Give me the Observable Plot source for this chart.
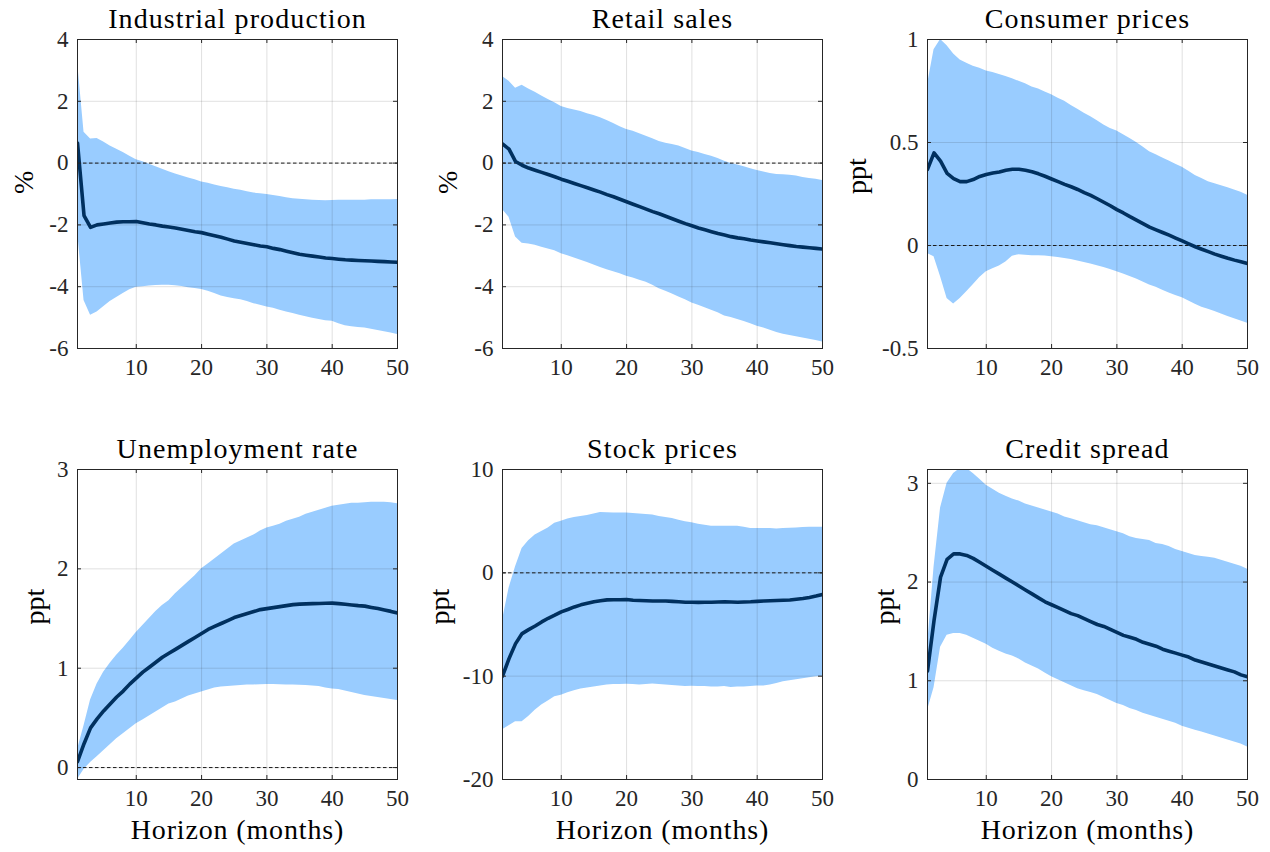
<!DOCTYPE html>
<html>
<head>
<meta charset="utf-8">
<script src="https://cdn.jsdelivr.net/npm/d3@7"></script>
<script src="https://cdn.jsdelivr.net/npm/@observablehq/plot@0.6"></script>
<style>
  html, body { margin: 0; padding: 0; background: #fff; }
  #fig { position: relative; width: 1270px; height: 852px; overflow: hidden; }
  #fig svg { position: absolute; overflow: visible; }
</style>
</head>
<body>
<div id="fig"></div>
<script>
// Impulse responses over a 50-month horizon: median and 68% band per variable.
const horizon = d3.range(1, 51);

const titles = ["Industrial production", "Retail sales", "Consumer prices",
                "Unemployment rate", "Stock prices", "Credit spread"];
const units = ["%", "%", "ppt", "ppt", "ppt", "ppt"];
const xLabel = "Horizon (months)";
const xTicks = [10, 20, 30, 40, 50];
const yTicks = [
  [-6, -4, -2, 0, 2, 4],
  [-6, -4, -2, 0, 2, 4],
  [-0.5, 0, 0.5, 1],
  [0, 1, 2, 3],
  [-20, -10, 0, 10],
  [0, 1, 2, 3]
];
const yDomains = [[-6, 4], [-6, 4], [-0.5, 1], [-0.12, 3], [-20, 10], [0, 3.14]];

// Industrial production
const ipMedian = [0.65, -1.7, -2.08, -2.0, -1.97, -1.94, -1.91, -1.9, -1.9, -1.89,
  -1.93, -1.97, -2.0, -2.04, -2.07, -2.1, -2.14, -2.18, -2.22, -2.25,
  -2.3, -2.35, -2.4, -2.46, -2.52, -2.56, -2.6, -2.64, -2.68, -2.71,
  -2.76, -2.8, -2.85, -2.9, -2.95, -2.98, -3.01, -3.04, -3.07, -3.09,
  -3.11, -3.13, -3.14, -3.15, -3.16, -3.17, -3.18, -3.19, -3.2, -3.21];
const ipUpper = [3.3, 1.0, 0.78, 0.8, 0.68, 0.55, 0.45, 0.34, 0.22, 0.11,
  0.04, -0.04, -0.12, -0.2, -0.28, -0.35, -0.42, -0.48, -0.54, -0.61,
  -0.65, -0.71, -0.76, -0.8, -0.85, -0.88, -0.93, -0.97, -0.99, -1.02,
  -1.05, -1.08, -1.12, -1.15, -1.17, -1.19, -1.2, -1.21, -1.22, -1.21,
  -1.2, -1.2, -1.2, -1.2, -1.2, -1.19, -1.19, -1.19, -1.19, -1.18];
const ipLower = [-2.2, -4.45, -4.92, -4.82, -4.65, -4.48, -4.35, -4.22, -4.1, -4.02,
  -4.0, -3.98, -3.96, -3.95, -3.95, -3.97, -3.99, -4.03, -4.06, -4.09,
  -4.15, -4.22, -4.3, -4.35, -4.39, -4.42, -4.48, -4.55, -4.6, -4.66,
  -4.7, -4.76, -4.82, -4.87, -4.92, -4.97, -5.02, -5.06, -5.1, -5.12,
  -5.2, -5.26, -5.3, -5.32, -5.34, -5.38, -5.42, -5.46, -5.5, -5.55];

// Retail sales
const rsMedian = [0.62, 0.45, 0.05, -0.07, -0.16, -0.23, -0.3, -0.37, -0.44, -0.52,
  -0.59, -0.66, -0.73, -0.8, -0.87, -0.94, -1.02, -1.09, -1.17, -1.25,
  -1.33, -1.41, -1.49, -1.57, -1.64, -1.72, -1.8, -1.88, -1.96, -2.03,
  -2.1, -2.16, -2.22, -2.28, -2.33, -2.38, -2.42, -2.45, -2.49, -2.52,
  -2.55, -2.58, -2.61, -2.64, -2.67, -2.7, -2.72, -2.74, -2.76, -2.78];
const rsUpper = [2.8, 2.65, 2.42, 2.52, 2.4, 2.29, 2.17, 2.06, 1.95, 1.83,
  1.77, 1.72, 1.67, 1.6, 1.54, 1.47, 1.38, 1.28, 1.18, 1.09,
  1.03, 0.95, 0.87, 0.79, 0.7, 0.64, 0.6, 0.55, 0.47, 0.39,
  0.34, 0.28, 0.22, 0.15, 0.06, -0.01, -0.06, -0.12, -0.18, -0.24,
  -0.29, -0.34, -0.37, -0.38, -0.39, -0.42, -0.47, -0.5, -0.52, -0.56];
const rsLower = [-1.5, -1.75, -2.39, -2.59, -2.62, -2.66, -2.72, -2.78, -2.84, -2.93,
  -3.0, -3.07, -3.14, -3.22, -3.3, -3.38, -3.45, -3.52, -3.58, -3.66,
  -3.72, -3.79, -3.86, -3.95, -4.07, -4.15, -4.24, -4.33, -4.42, -4.53,
  -4.6, -4.68, -4.76, -4.84, -4.95, -5.0, -5.06, -5.13, -5.2, -5.28,
  -5.34, -5.41, -5.48, -5.54, -5.58, -5.62, -5.66, -5.7, -5.74, -5.79];

// Consumer prices
const cpMedian = [0.37, 0.45, 0.41, 0.35, 0.325, 0.31, 0.31, 0.32, 0.335, 0.345,
  0.352, 0.357, 0.365, 0.37, 0.37, 0.365, 0.358, 0.348, 0.336, 0.323,
  0.31, 0.297, 0.285, 0.272, 0.257, 0.243, 0.227, 0.21, 0.193, 0.174,
  0.158, 0.14, 0.123, 0.106, 0.089, 0.076, 0.063, 0.05, 0.036, 0.022,
  0.008, -0.006, -0.018, -0.03, -0.042, -0.052, -0.062, -0.071, -0.079, -0.087];
const cpUpper = [0.78, 0.95, 1.0, 0.97, 0.93, 0.9, 0.885, 0.87, 0.86, 0.847,
  0.84, 0.83, 0.82, 0.81, 0.797, 0.785, 0.77, 0.76, 0.745, 0.732,
  0.715, 0.7, 0.68, 0.662, 0.642, 0.625, 0.605, 0.585, 0.568, 0.556,
  0.538, 0.52, 0.5, 0.478, 0.455, 0.44, 0.425, 0.41, 0.395, 0.38,
  0.36, 0.34, 0.325, 0.31, 0.3, 0.29, 0.28, 0.27, 0.258, 0.244];
const cpLower = [-0.039, -0.055, -0.152, -0.257, -0.284, -0.257, -0.225, -0.19, -0.155, -0.128,
  -0.113, -0.1, -0.08, -0.052, -0.045, -0.047, -0.05, -0.05, -0.051, -0.055,
  -0.058, -0.063, -0.068, -0.075, -0.082, -0.09, -0.098, -0.107, -0.116, -0.127,
  -0.138, -0.15, -0.163, -0.177, -0.192, -0.203, -0.217, -0.23, -0.243, -0.254,
  -0.27, -0.285, -0.3, -0.31, -0.32, -0.333, -0.345, -0.356, -0.367, -0.378];

// Unemployment rate
const urMedian = [0.06, 0.24, 0.4, 0.49, 0.57, 0.64, 0.71, 0.77, 0.84, 0.9,
  0.96, 1.01, 1.06, 1.11, 1.15, 1.19, 1.23, 1.27, 1.31, 1.35,
  1.39, 1.42, 1.45, 1.48, 1.51, 1.53, 1.55, 1.57, 1.59, 1.6,
  1.61, 1.62, 1.63, 1.64, 1.645, 1.648, 1.65, 1.652, 1.654, 1.655,
  1.65, 1.643, 1.637, 1.63, 1.625, 1.612, 1.6, 1.586, 1.572, 1.556];
const urUpper = [0.18, 0.42, 0.68, 0.84, 0.96, 1.05, 1.13, 1.2, 1.28, 1.36,
  1.43, 1.5, 1.57, 1.63, 1.68, 1.75, 1.81, 1.87, 1.93, 2.0,
  2.05, 2.1, 2.15, 2.2, 2.25, 2.28, 2.31, 2.34, 2.38, 2.41,
  2.43, 2.45, 2.48, 2.5, 2.52, 2.55, 2.57, 2.59, 2.61, 2.63,
  2.64, 2.65, 2.66, 2.66, 2.665, 2.67, 2.67, 2.67, 2.665, 2.655];
const urLower = [-0.12, -0.02, 0.05, 0.11, 0.17, 0.23, 0.29, 0.34, 0.39, 0.44,
  0.48, 0.52, 0.56, 0.6, 0.64, 0.66, 0.69, 0.72, 0.74, 0.76,
  0.78, 0.8, 0.81, 0.815, 0.82, 0.825, 0.83, 0.832, 0.834, 0.836,
  0.835, 0.834, 0.832, 0.83, 0.828, 0.826, 0.822, 0.815, 0.8, 0.79,
  0.785, 0.77, 0.755, 0.74, 0.725, 0.715, 0.705, 0.695, 0.685, 0.675];

// Stock prices
const spMedian = [-10, -8.3, -6.85, -5.88, -5.5, -5.15, -4.75, -4.4, -4.1, -3.78,
  -3.55, -3.3, -3.1, -2.95, -2.8, -2.7, -2.62, -2.6, -2.6, -2.58,
  -2.65, -2.68, -2.7, -2.72, -2.72, -2.73, -2.76, -2.8, -2.84, -2.85,
  -2.86, -2.85, -2.84, -2.82, -2.8, -2.82, -2.84, -2.82, -2.8, -2.76,
  -2.72, -2.7, -2.68, -2.65, -2.63, -2.55, -2.48, -2.38, -2.25, -2.1];
const spUpper = [-4.6, -1.5, 0.58, 2.36, 3.1, 3.65, 4.0, 4.35, 4.8, 5.0,
  5.2, 5.35, 5.45, 5.55, 5.7, 5.85, 5.82, 5.8, 5.8, 5.8,
  5.75, 5.7, 5.65, 5.6, 5.45, 5.35, 5.25, 5.1, 4.95, 4.85,
  4.7, 4.6, 4.52, 4.5, 4.5, 4.5, 4.5, 4.4, 4.3, 4.3,
  4.3, 4.28, 4.25, 4.3, 4.32, 4.35, 4.38, 4.4, 4.4, 4.42];
const spLower = [-15.18, -14.8, -14.4, -14.4, -13.9, -13.3, -12.8, -12.4, -12.0, -11.84,
  -11.6, -11.4, -11.25, -11.15, -11.04, -10.95, -10.85, -10.8, -10.8, -10.78,
  -10.8, -10.85, -10.8, -10.75, -10.8, -10.85, -10.9, -10.95, -11.0, -10.98,
  -11.0, -11.0, -11.05, -11.05, -11.0, -11.1, -11.05, -11.05, -11.0, -10.95,
  -10.95, -10.85, -10.7, -10.55, -10.45, -10.35, -10.25, -10.15, -10.05, -10.0];

// Credit spread
const csMedian = [1.1, 1.61, 2.05, 2.23, 2.285, 2.285, 2.27, 2.24, 2.2, 2.16,
  2.12, 2.08, 2.04, 2.0, 1.96, 1.92, 1.88, 1.84, 1.8, 1.77,
  1.74, 1.71, 1.68, 1.66, 1.63, 1.6, 1.57, 1.55, 1.52, 1.49,
  1.46, 1.44, 1.42, 1.39, 1.37, 1.35, 1.32, 1.3, 1.28, 1.26,
  1.24, 1.21, 1.19, 1.17, 1.15, 1.13, 1.11, 1.09, 1.06, 1.04];
const csUpper = [1.35, 2.15, 2.75, 3.0, 3.1, 3.15, 3.15, 3.1, 3.04, 2.98,
  2.94, 2.9, 2.87, 2.84, 2.82, 2.79, 2.77, 2.75, 2.73, 2.71,
  2.69, 2.66, 2.64, 2.62, 2.6, 2.58, 2.57, 2.55, 2.53, 2.51,
  2.49, 2.46, 2.44, 2.43, 2.42, 2.39, 2.38, 2.36, 2.33, 2.31,
  2.29, 2.27, 2.26, 2.25, 2.24, 2.22, 2.2, 2.18, 2.16, 2.13];
const csLower = [0.7, 0.93, 1.34, 1.46, 1.48, 1.48, 1.46, 1.43, 1.4, 1.37,
  1.33, 1.3, 1.27, 1.25, 1.22, 1.18, 1.15, 1.12, 1.08, 1.04,
  1.01, 0.98, 0.95, 0.92, 0.9, 0.88, 0.86, 0.83, 0.8, 0.77,
  0.75, 0.72, 0.7, 0.67, 0.65, 0.63, 0.61, 0.59, 0.57, 0.54,
  0.52, 0.5, 0.48, 0.46, 0.44, 0.42, 0.4, 0.38, 0.36, 0.33];

const medians = [ipMedian, rsMedian, cpMedian, urMedian, spMedian, csMedian];
const uppers = [ipUpper, rsUpper, cpUpper, urUpper, spUpper, csUpper];
const lowers = [ipLower, rsLower, cpLower, urLower, spLower, csLower];

// Layout of the 2 x 3 grid (plot-area corners in page pixels).
const colLeft = [77, 502, 927];
const rowTop = [39, 469];
const plotW = 320;
const rowH = [309, 310];
const yLabelGap = [53, 54, 70, 42, 62, 42];
const M = {left: 90, right: 30, top: 45, bottom: 75};

const axisColor = "#262626";
const bandColor = "#99ccff";
const lineColor = "#00305f";
const font = "'Liberation Serif', 'Times New Roman', serif";
const fmt = d => String(d);

const fig = document.getElementById("fig");

titles.forEach((title, i) => {
  const row = Math.floor(i / 3), col = i % 3;
  const ph = rowH[row];
  const data = horizon.map((h, k) => ({h, lo: lowers[i][k], hi: uppers[i][k], mid: medians[i][k]}));
  const tickLen = 4;

  const marks = [
    Plot.areaY(data, {x: "h", y1: "lo", y2: "hi", fill: bandColor, clip: true}),
    Plot.ruleY([0], {stroke: "#1a1a1a", strokeWidth: 1, strokeDasharray: "3.5,2.5"}),
    Plot.gridX(xTicks, {stroke: axisColor, strokeOpacity: 0.14, strokeWidth: 1}),
    Plot.gridY(yTicks[i], {stroke: axisColor, strokeOpacity: 0.14, strokeWidth: 1}),
    Plot.lineY(data, {x: "h", y: "mid", stroke: lineColor, strokeWidth: 3.6, clip: true}),
    Plot.frame({stroke: axisColor, strokeWidth: 1}),
    // inward tick marks on all four sides
    Plot.ruleX(xTicks, {stroke: axisColor, insetTop: ph - tickLen}),
    Plot.ruleX(xTicks, {stroke: axisColor, insetBottom: ph - tickLen}),
    Plot.ruleY(yTicks[i], {stroke: axisColor, insetRight: plotW - tickLen}),
    Plot.ruleY(yTicks[i], {stroke: axisColor, insetLeft: plotW - tickLen}),
    Plot.axisX(xTicks, {tickSize: 0, tickPadding: 10, fontSize: 23, fontFamily: font, tickFormat: fmt, label: null, fill: axisColor}),
    Plot.axisY(yTicks[i], {tickSize: 0, tickPadding: 9, fontSize: 23, fontFamily: font, tickFormat: fmt, label: null, fill: axisColor}),
    Plot.text([title], {frameAnchor: "top", dy: -12, lineAnchor: "bottom", fontSize: 28, fontFamily: font, fill: "#000"}),
    Plot.text([units[i]], {frameAnchor: "left", dx: -yLabelGap[i], rotate: -90, fontSize: 28, fontFamily: font, fill: "#000"})
  ];
  if (row === 1) {
    marks.push(Plot.text([xLabel], {frameAnchor: "bottom", dy: 59, lineAnchor: "bottom", fontSize: 28, fontFamily: font, fill: "#000"}));
  }

  const svg = Plot.plot({
    width: M.left + plotW + M.right,
    height: M.top + ph + M.bottom,
    marginLeft: M.left, marginRight: M.right, marginTop: M.top, marginBottom: M.bottom,
    style: `font-family: ${font}; background: transparent; overflow: visible;`,
    x: {domain: [1, 50]},
    y: {domain: yDomains[i]},
    marks
  });

  // slightly looser tracking for the panel title and the horizon label
  svg.querySelectorAll("text").forEach(t => {
    if (t.textContent === title) t.setAttribute("letter-spacing", "1.1");
    else if (t.textContent === xLabel) t.setAttribute("letter-spacing", "0.85");
  });

  svg.style.left = (colLeft[col] - M.left) + "px";
  svg.style.top = (rowTop[row] - M.top) + "px";
  fig.appendChild(svg);
});
</script>
</body>
</html>
